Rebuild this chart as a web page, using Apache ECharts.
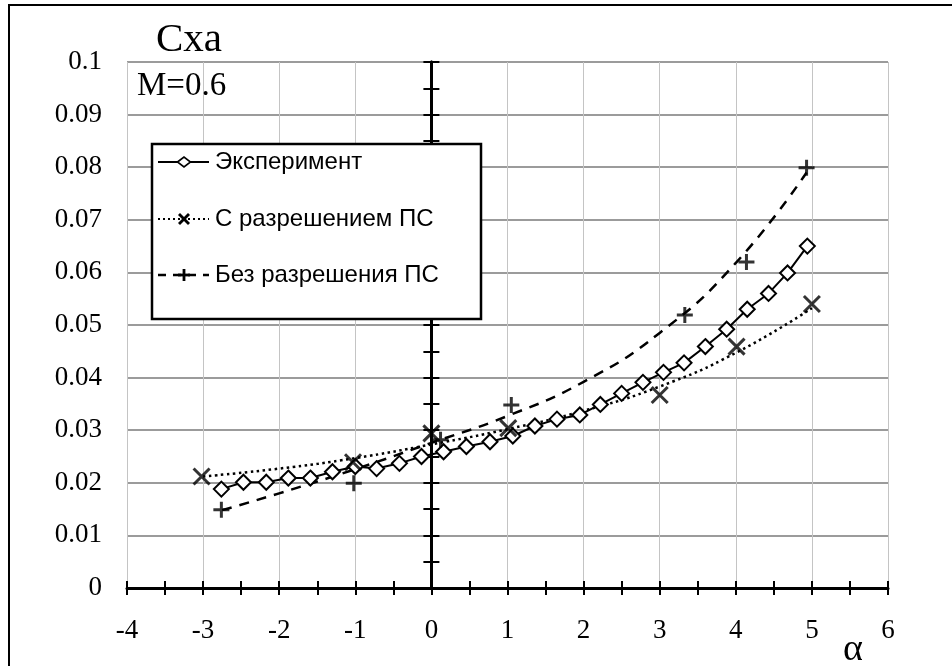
<!DOCTYPE html>
<html>
<head>
<meta charset="utf-8">
<script src="https://cdn.jsdelivr.net/npm/echarts@6/dist/echarts.min.js"></script>
<style>
html,body{margin:0;padding:0;background:#fff;}
#chart{width:952px;height:666px;}
</style>
</head>
<body>
<div id="chart"></div>
<script>
// ---- data ----
var expAlpha = [-2.76, -2.47, -2.17, -1.88, -1.59, -1.30, -1.00, -0.72, -0.42, -0.13, 0.16, 0.46, 0.77, 1.07, 1.36, 1.65, 1.95, 2.22, 2.50, 2.78, 3.05, 3.32, 3.60, 3.88, 4.15, 4.43, 4.68, 4.94];
var expCx    = [0.0188, 0.0201, 0.0201, 0.0209, 0.0209, 0.0221, 0.0231, 0.0227, 0.0237, 0.0250, 0.0259, 0.0269, 0.0278, 0.0289, 0.0308, 0.0321, 0.0329, 0.0349, 0.0370, 0.0391, 0.0410, 0.0428, 0.0459, 0.0492, 0.0530, 0.0560, 0.0599, 0.0650];

var withAlpha = [-3.02, -1.03, 0.00, 1.01, 3.00, 4.01, 5.00];
var withCx    = [0.0212, 0.0239, 0.0294, 0.0304, 0.0367, 0.0459, 0.0540];
var withTrendAlpha = [-3, -2, -1, 0, 1, 2, 3, 4, 5];
var withTrendCx    = [0.0212, 0.0227, 0.0247, 0.0273, 0.0302, 0.0337, 0.0383, 0.0447, 0.0532];

var noAlpha = [-2.76, -1.02, 0.12, 1.05, 3.33, 4.14, 4.93];
var noCx    = [0.0149, 0.0199, 0.0282, 0.0348, 0.0519, 0.0620, 0.0799];
var noTrendAlpha = [-2.75, -2, -1, 0, 1, 2, 3, 4, 4.93];
var noTrendCx    = [0.0148, 0.0180, 0.0226, 0.0276, 0.0327, 0.0392, 0.0485, 0.0618, 0.0790];

var seriesNames = ['Эксперимент', 'С разрешением ПС', 'Без разрешения ПС'];
var yTitle = 'Cxa';
var xTitle = 'α';
var machLabel = 'M=0.6';

function pairs(xs, ys){ return xs.map(function(x,i){ return [x, ys[i]]; }); }

var SERIF = '"Liberation Serif", "Times New Roman", serif';
var SANS = '"Liberation Sans", Arial, sans-serif';
var CROSS = 'path://M0,0L10,10M10,0L0,10';
var PLUS = 'path://M5,0L5,10M0,5L10,5';

var chart = echarts.init(document.getElementById('chart'), null, {renderer:'canvas'});

function tickAxisX(inside){
  return {type:'value', min:-4, max:6, interval:0.5, position:'bottom',
    axisLine:{show:false, onZero:false},
    axisTick:{show:true, inside:inside, length:7, lineStyle:{color:'#000', width:2}},
    axisLabel:{show:false}, splitLine:{show:false}};
}
function tickAxisY(inside){
  return {type:'value', min:0, max:0.1, interval:0.005, position:'left',
    axisLine:{show:true, onZero:true, onZeroAxisIndex:0, lineStyle:{color:'#000', width:3}},
    axisTick:{show:true, inside:inside, length:8, lineStyle:{color:'#000', width:2}},
    axisLabel:{show:false}, splitLine:{show:false}};
}

// legend drawn as graphic (on top of axes)
var L = {x:152, y:144, w:329, h:175, iconX0:158, iconX1:209, textX:215, rows:[162, 219, 275]};
var LFONT = '24px ' + SANS;
var LZ = 100;
var legendEls = [
  {type:'rect', z:LZ, shape:{x:L.x, y:L.y, width:L.w, height:L.h}, style:{fill:'#fff', stroke:'#000', lineWidth:2.5}},
  // row 1: solid + diamond
  {type:'line', z:LZ+1, shape:{x1:L.iconX0, y1:L.rows[0], x2:L.iconX1, y2:L.rows[0]}, style:{stroke:'#000', lineWidth:2}},
  {type:'polygon', z:LZ+2, shape:{points:[[184-6.5,L.rows[0]],[184,L.rows[0]-5],[184+6.5,L.rows[0]],[184,L.rows[0]+5]]}, style:{fill:'#fff', stroke:'#000', lineWidth:1.6}},
  {type:'text', z:LZ+1, style:{text:seriesNames[0], x:L.textX, y:L.rows[0], font:LFONT, fill:'#000', textVerticalAlign:'middle'}},
  // row 2: dotted + x
  {type:'line', z:LZ+1, shape:{x1:L.iconX0, y1:L.rows[1], x2:L.iconX1, y2:L.rows[1]}, style:{stroke:'#000', lineWidth:2, lineDash:[2,3]}},
  {type:'line', z:LZ+2, shape:{x1:179, y1:L.rows[1]-5, x2:189, y2:L.rows[1]+5}, style:{stroke:'#000', lineWidth:2.8}},
  {type:'line', z:LZ+2, shape:{x1:189, y1:L.rows[1]-5, x2:179, y2:L.rows[1]+5}, style:{stroke:'#000', lineWidth:2.8}},
  {type:'text', z:LZ+1, style:{text:seriesNames[1], x:L.textX, y:L.rows[1], font:LFONT, fill:'#000', textVerticalAlign:'middle'}},
  // row 3: dashed + plus
  {type:'line', z:LZ+1, shape:{x1:L.iconX0, y1:L.rows[2], x2:L.iconX1, y2:L.rows[2]}, style:{stroke:'#000', lineWidth:2.5, lineDash:[8,7]}},
  {type:'line', z:LZ+2, shape:{x1:184, y1:L.rows[2]-6, x2:184, y2:L.rows[2]+6}, style:{stroke:'#000', lineWidth:2.8}},
  {type:'line', z:LZ+2, shape:{x1:178, y1:L.rows[2], x2:190, y2:L.rows[2]}, style:{stroke:'#000', lineWidth:2.8}},
  {type:'text', z:LZ+1, style:{text:seriesNames[2], x:L.textX, y:L.rows[2], font:LFONT, fill:'#000', textVerticalAlign:'middle'}}
];
legendEls.forEach(function(e){ e.silent = true; });

var option = {
  animation:false,
  backgroundColor:'#fff',
  grid:{left:127, right:64, top:62, bottom:78, containLabel:false},
  xAxis:[
    {type:'value', min:-4, max:6, interval:1, position:'bottom',
      axisLine:{show:true, onZero:false, lineStyle:{color:'#000', width:3}},
      axisTick:{show:false},
      axisLabel:{fontFamily:SERIF, fontSize:27, color:'#000', margin:29},
      splitLine:{show:true, lineStyle:{color:'#c4c4c4', width:1}}},
    tickAxisX(false), tickAxisX(true)
  ],
  yAxis:[
    {type:'value', min:0, max:0.1, interval:0.01, position:'left',
      axisLine:{show:false, onZero:false}, axisTick:{show:false},
      axisLabel:{fontFamily:SERIF, fontSize:27, color:'#000', margin:25},
      splitLine:{show:true, lineStyle:{color:'#7a7a7a', width:1.5}}},
    tickAxisY(false), tickAxisY(true)
  ],
  series:[
    {name:seriesNames[1]+' тренд', type:'line', data:pairs(withTrendAlpha, withTrendCx), smooth:true, symbol:'none',
      lineStyle:{color:'#000', width:2.5, type:[2.5,3.5], cap:'butt'}, z:2, silent:true},
    {name:seriesNames[2]+' тренд', type:'line', data:pairs(noTrendAlpha, noTrendCx), smooth:true, symbol:'none',
      lineStyle:{color:'#000', width:2.5, type:[10,8], cap:'butt'}, z:2, silent:true},
    {name:seriesNames[0], type:'line', data:pairs(expAlpha, expCx), smooth:false,
      symbol:'diamond', symbolSize:[15,15], showAllSymbol:true,
      itemStyle:{color:'#fff', borderColor:'#000', borderWidth:2},
      lineStyle:{color:'#000', width:2}, z:3},
    {name:seriesNames[1], type:'scatter', data:pairs(withAlpha, withCx), symbol:CROSS, symbolSize:16,
      itemStyle:{color:'#000', borderColor:'#000', borderWidth:3}, z:4},
    {name:seriesNames[2], type:'scatter', data:pairs(noAlpha, noCx), symbol:PLUS, symbolSize:16,
      itemStyle:{color:'#000', borderColor:'#000', borderWidth:3}, z:4}
  ],
  graphic:[
    {type:'rect', silent:true, z:0, shape:{x:9, y:5, width:1200, height:1200}, style:{fill:'none', stroke:'#000', lineWidth:2}},
    {type:'text', silent:true, z:50, style:{text:yTitle, x:156, y:40, font:'41px '+SERIF, fill:'#000', textVerticalAlign:'middle'}},
    {type:'text', silent:true, z:50, style:{text:machLabel, x:137, y:86, font:'33px '+SERIF, fill:'#000', textVerticalAlign:'middle'}},
    {type:'text', silent:true, z:50, style:{text:xTitle, x:853, y:650, font:'38px '+SERIF, fill:'#000', textAlign:'center', textVerticalAlign:'middle'}}
  ].concat(legendEls)
};
chart.setOption(option);
</script>
</body>
</html>
